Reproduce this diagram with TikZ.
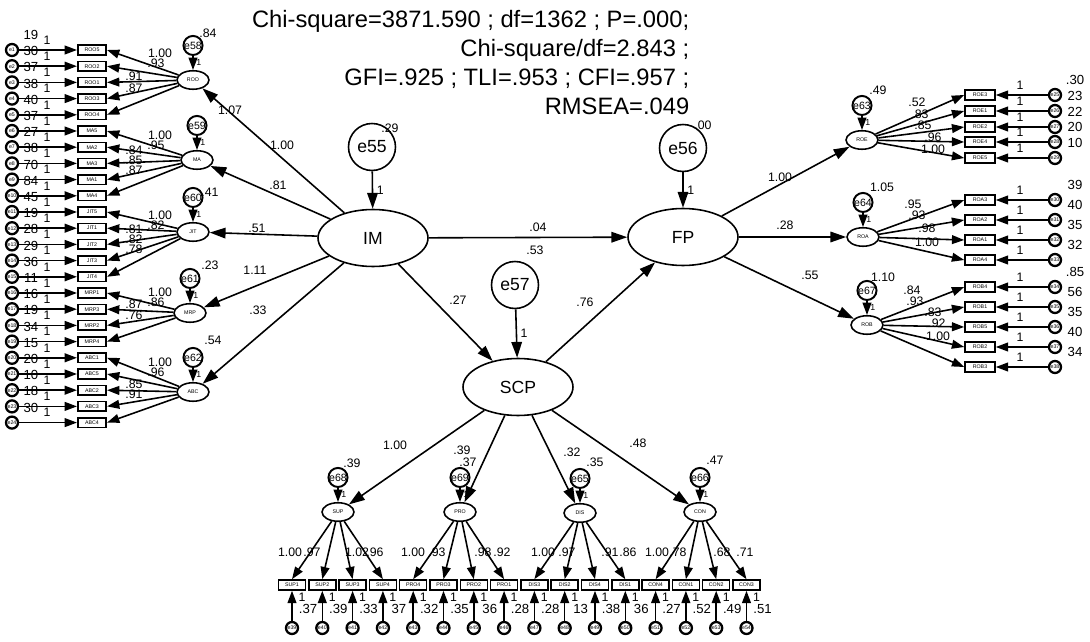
\documentclass[tikz,border=0pt]{standalone}
\usepackage{fontspec}
\setmainfont{Liberation Sans}
\usetikzlibrary{positioning,arrows.meta,shapes.geometric}

\begin{document}
\begin{tikzpicture}[x=0.02cm, y=-0.02cm, line width=0.9pt,
  lat/.style={draw, ellipse, minimum width=2.2cm, minimum height=1.14cm, inner sep=0pt, font=\fontsize{10}{10}\selectfont},
  errbig/.style={draw, circle, minimum size=0.94cm, inner sep=0pt, font=\fontsize{10}{10}\selectfont},
  fac/.style={draw, ellipse, minimum width=0.64cm, minimum height=0.37cm, inner sep=0pt, font=\fontsize{3}{3}\selectfont},
  obs/.style={draw, rectangle, minimum width=0.57cm, minimum height=0.19cm, inner sep=0pt, font=\fontsize{3}{3}\selectfont},
  res/.style={draw, circle, line width=1.3pt, minimum size=0.24cm, inner sep=0pt, font=\fontsize{3}{3}\selectfont},
  dist/.style={draw, circle, line width=1.1pt, minimum size=0.27cm, inner sep=0pt, font=\fontsize{6}{6}\selectfont},
  arr/.style={-{Triangle[length=9pt,width=6pt]}},
  sarr/.style={-{Triangle[length=7pt,width=5pt]}},
  lab/.style={font=\fontsize{7}{7}\selectfont, inner sep=0pt},
  num/.style={font=\fontsize{7}{7}\selectfont, inner sep=0pt}]
\useasboundingbox (0,0) rectangle (1090,642);

% fit indices
\node[anchor=north east, align=right, inner sep=0pt, font=\fontsize{13.5}{16.5}\selectfont] (fit) at (690,10)
  {Chi-square=3871.590 ; df=1362 ; P=.000;\\ Chi-square/df=2.843 ;\\ GFI=.925 ; TLI=.953 ; CFI=.957 ;\\ RMSEA=.049};

% second order factors
\node[lat] (im) at (373,238) {IM};
\node[lat] (fp) at (683,237) {FP};
\node[lat] (scp) at (518,387) {SCP};
\node[errbig] (e55) at (372,147) {e55};
\node[errbig] (e56) at (683,148) {e56};
\node[errbig] (e57) at (515,285) {e57};
\draw[arr] (e55) -- node[lab, right=2pt] (w55) {1} (im);
\draw[arr] (e56) -- node[lab, right=2pt] (w56) {1} (fp);
\draw[arr] (e57) -- node[lab, right=2pt] (w57) {1} (scp);
\draw[arr] (im) -- (fp);
\draw[arr] (im) -- (scp);
\draw[arr] (scp) -- (fp);

% first order factors
\node[fac] (roo) at (193,80) {ROO};
\node[fac] (ma) at (197,160) {MA};
\node[fac] (jit) at (193,232) {JIT};
\node[fac] (mrp) at (190,313) {MRP};
\node[fac] (abc) at (193,392) {ABC};
\node[fac] (roe) at (862,140) {ROE};
\node[fac] (roa) at (863,237) {ROA};
\node[fac] (rob) at (867,325) {ROB};
\node[fac] (sup) at (338,512) {SUP};
\node[fac] (pro) at (460,512) {PRO};
\node[fac] (dis) at (580,513) {DIS};
\node[fac] (con) at (700,512) {CON};
\foreach \f in {roo,ma,jit,mrp,abc} \draw[arr] (im) -- (\f);
\foreach \f in {roe,roa,rob} \draw[arr] (fp) -- (\f);
\foreach \f in {sup,pro,dis,con} \draw[arr] (scp) -- (\f);
\foreach \f/\e in {roo/58,ma/59,jit/60,mrp/61,abc/62,roe/63,roa/64,rob/67,sup/68,pro/69,dis/65,con/66}{
  \node[dist, above=0.28cm of \f] (d\e) {e\e};
  \draw[sarr] (d\e) -- node[font=\fontsize{5}{5}\selectfont, inner sep=0pt, right=1.5pt] (k\e) {1} (\f);
}

% left indicators
\foreach \n/\v [count=\i from 0] in {ROO5/19,ROO2/30,ROO1/37,ROO3/38,ROO4/40,MA5/37,MA2/27,MA3/38,MA1/70,MA4/84,JIT5/45,JIT1/19,JIT2/28,JIT3/29,JIT4/36,MRP1/11,MRP3/16,MRP2/19,MRP4/34,ABC1/15,ABC5/20,ABC2/10,ABC3/18,ABC4/30}{
  \pgfmathsetmacro\yy{50+16.2*\i}
  \node[obs] (x\i) at (92,\yy) {\n};
  \node[res] (r\i) at (12,\yy) {e\number\numexpr\i+1\relax};
  \draw[sarr] (r\i) -- (x\i);
  \node[num, font=\fontsize{7.5}{7.5}\selectfont] (v\i) at (31,\yy-15) {\v};
  \node[lab] (u\i) at (47,\yy-10) {1};
}
\foreach \f/\a/\b in {roo/0/4,ma/5/9,jit/10/14,mrp/15/18,abc/19/23}
  \foreach \j in {\a,...,\b} \draw[sarr] (\f) -- (x\j.east);

% right indicators
\foreach \n/\yy/\v [count=\i from 0] in {ROE3/95/.30,ROE1/111/23,ROE2/127/22,ROE4/142/20,ROE5/158/10,ROA3/200/39,ROA2/220/40,ROA1/240/35,ROA4/260/32,ROB4/287/.85,ROB1/307/56,ROB5/327/35,ROB2/347/40,ROB3/367/34}{
  \node[obs, minimum width=0.6cm] (y\i) at (980,\yy) {\n};
  \node[res] (s\i) at (1055,\yy) {e\number\numexpr\i+25\relax};
  \draw[sarr] (s\i) -- (y\i);
  \node[num, font=\fontsize{7.5}{7.5}\selectfont] (q\i) at (1075,\yy-15) {\v};
  \node[lab] (t\i) at (1020,\yy-10) {1};
}
\foreach \f/\a/\b in {roe/0/4,roa/5/8,rob/9/13}
  \foreach \j in {\a,...,\b} \draw[sarr] (\f) -- (y\j.west);

% bottom indicators
\foreach \n/\v [count=\i from 0] in {SUP1/.37,SUP2/.39,SUP3/.33,SUP4/37,PRO4/.32,PRO3/.35,PRO2/36,PRO1/.28,DIS3/.28,DIS2/13,DIS4/.38,DIS1/36,CON4/.27,CON1/.52,CON2/.49,CON3/.51}{
  \pgfmathsetmacro\xx{292+30.3*\i}
  \node[obs, minimum width=0.54cm, minimum height=0.2cm] (z\i) at (\xx,585) {\n};
  \node[res] (b\i) at (\xx,628) {e\number\numexpr\i+39\relax};
  \draw[sarr] (b\i) -- (z\i);
  \node[num, font=\fontsize{7.5}{7.5}\selectfont] (p\i) at (\xx+16,609) {\v};
  \node[lab] (o\i) at (\xx+10,597) {1};
}
\foreach \f/\a/\b in {sup/0/3,pro/4/7,dis/8/11,con/12/15}
  \foreach \j in {\a,...,\b} \draw[sarr] (\f) -- (z\j.north);

% estimates
\foreach \t/\x/\y [count=\k] in {.29/390/128,.00/703/125,.53/535/250,.04/538/227,.27/458/300,.76/585/302,
  1.00/282/145,.81/278/185,.51/257/228,1.11/255/270,.33/258/310,1.00/780/177,.28/785/225,.55/810/275,
  1.00/395/445,.39/462/450,.32/572/452,.48/638/443,.84/208/33,1.07/230/110,.41/210/192,.23/210/265,
  .54/213/340,.49/878/90,1.05/882/187,1.10/883/277,.39/352/463,.37/468/462,.35/595/462,.47/715/460}
  \node[lab] (m\k) at (\x,\y) {\t};
\foreach \t/\x/\y [count=\k] in {1.00/160/53,.93/156/63,.91/134/76,.87/134/88,
  1.00/160/135,.95/156/145,.84/134/150,.85/134/160,.87/134/170,
  1.00/160/215,.82/156/225,.81/134/229,.82/134/239,.78/134/249,
  1.00/160/292,.86/156/302,.87/134/304,.76/134/315,
  1.00/160/362,.96/156/372,.85/134/384,.91/134/394,
  .52/917/102,.83/920/114,.85/923/125,.96/933/137,1.00/933/149,
  .95/913/204,.93/917/215,.98/927/228,1.00/927/242,
  .84/912/290,.93/915/301,.83/933/312,.92/937/323,1.00/938/336,
  1.00/290/552,.97/312/552,1.02/357/552,.96/375/552,1.00/413/552,.93/437/552,.98/483/552,.92/502/552,
  1.00/543/552,.97/567/552,.91/610/552,.86/628/552,1.00/657/552,.78/678/552,.68/722/552,.71/745/552}
  \node[num] (n\k) at (\x,\y) {\t};
\end{tikzpicture}
\end{document}
